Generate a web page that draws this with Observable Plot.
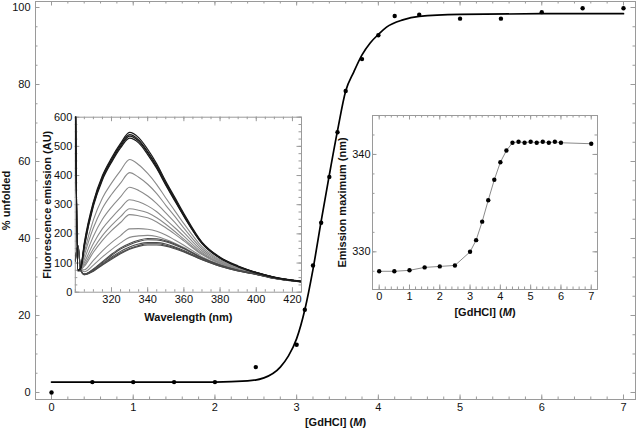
<!DOCTYPE html>
<html><head><meta charset="utf-8">
<script src="https://cdn.jsdelivr.net/npm/d3@7"></script>
<script src="https://cdn.jsdelivr.net/npm/@observablehq/plot@0.6"></script>
<style>
body{margin:0;background:#fff;}
#wrap{position:relative;width:640px;height:428px;overflow:hidden;}
#wrap svg{position:absolute;}
g[aria-label="x-axis label"] text, g[aria-label="y-axis label"] text{font-weight:bold;}
</style></head><body><div id="wrap"></div>
<script>
// ---- main chart: % unfolded vs [GdHCl]
const denat = [0, 0.5, 1, 1.5, 2, 2.5, 3, 3.1, 3.2, 3.3, 3.4, 3.5, 3.6, 3.8, 4, 4.2, 4.5, 5, 5.5, 6, 6.5, 7];
const pctUnfolded = [0, 2.7, 2.7, 2.7, 2.7, 6.6, 12.4, 21.5, 33, 44.1, 56, 67.6, 78.3, 86.6, 92.8, 97.8, 98.1, 97.1, 97.1, 98.8, 99.8, 99.8];
const fitX = [0, 2.0, 2.4, 2.6, 2.8, 2.9, 3.0, 3.1, 3.2, 3.3, 3.4, 3.5, 3.6, 3.7, 3.8, 3.9, 4.0, 4.1, 4.3, 4.5, 5.0, 6.0, 7.0];
const fitY = [2.7, 2.7, 3.0, 3.8, 6.6, 9.5, 14, 21.5, 32, 44.5, 56.5, 68, 78.3, 83.3, 87.7, 90.8, 93.0, 94.9, 96.8, 97.7, 98.2, 98.4, 98.4];
const mainXTicks = [0, 1, 2, 3, 4, 5, 6, 7];
const mainYTicks = [0, 20, 40, 60, 80, 100];

// ---- inset 1: emission spectra
const wavelengths = [300, 301.5, 303, 305, 310, 315, 320, 325, 330, 335, 340, 345, 350, 355, 360, 370, 380, 390, 400, 410, 425];
const nat1 = [700, 75, 85, 170, 310, 400, 460, 510, 548, 530, 490, 440, 380, 325, 270, 172, 120, 90, 68, 52, 38];
const nat2 = [700, 75, 85, 165, 305, 395, 455, 505, 540, 522, 482, 433, 375, 320, 265, 170, 118, 88, 67, 51, 37];
const nat3 = [700, 75, 82, 160, 300, 390, 450, 500, 535, 518, 478, 428, 370, 316, 262, 168, 117, 88, 67, 51, 37];
const nat4 = [700, 75, 80, 155, 295, 385, 445, 495, 528, 512, 472, 424, 367, 313, 260, 167, 116, 87, 66, 51, 36];
const mid1 = [700, 72, 80, 137, 248, 323, 374, 417, 455, 437, 407, 369, 323, 279, 235, 156, 111, 85, 66, 50, 37];
const mid2 = [700, 72, 80, 126, 221, 288, 335, 374, 410, 394, 370, 338, 298, 260, 220, 149, 108, 83, 65, 50, 37];
const mid3 = [700, 72, 79, 113, 192, 250, 292, 327, 360, 349, 330, 304, 272, 239, 205, 142, 105, 81, 65, 50, 37];
const mid4 = [700, 72, 78, 102, 167, 218, 255, 288, 317, 310, 296, 276, 249, 221, 192, 136, 102, 80, 64, 49, 36];
const mid5 = [700, 72, 77, 94, 149, 194, 229, 259, 286, 281, 272, 255, 233, 208, 182, 132, 100, 79, 64, 49, 36];
const mid6 = [700, 72, 77, 89, 137, 178, 211, 239, 266, 262, 255, 241, 221, 199, 176, 129, 98, 78, 63, 49, 36];
const mid7 = [700, 72, 76, 77, 109, 142, 170, 194, 217, 218, 216, 209, 196, 179, 161, 122, 95, 76, 63, 48, 36];
const mid8 = [700, 72, 76, 70, 93, 121, 146, 169, 188, 193, 195, 191, 181, 168, 153, 118, 93, 75, 62, 48, 36];
const unf1 = [110, 160, 75, 62, 80, 105, 130, 152, 167, 178, 184, 183, 176, 165, 151, 118, 93, 75, 62, 48, 36];
const unf2 = [110, 160, 75, 62, 78, 102, 126, 148, 163, 174, 180, 179, 173, 162, 149, 117, 92, 75, 62, 48, 36];
const unf3 = [110, 160, 75, 62, 75, 98, 120, 140, 155, 165, 170, 170, 165, 155, 143, 114, 91, 74, 62, 48, 36];
const unf4 = [108, 158, 74, 60, 73, 95, 116, 135, 150, 160, 166, 166, 161, 152, 140, 112, 89, 73, 61, 47, 35];
const unf5 = [105, 155, 74, 60, 72, 93, 113, 132, 147, 157, 162, 162, 158, 149, 138, 111, 89, 73, 61, 47, 35];
const specXTicks = [320, 340, 360, 380, 400, 420];
const specYTicks = [0, 100, 200, 300, 400, 500, 600];

// ---- inset 2: emission maximum
const emConc = [0, 0.5, 1, 1.5, 2, 2.5, 3, 3.2, 3.4, 3.6, 3.8, 4, 4.2, 4.4, 4.6, 4.8, 5, 5.2, 5.4, 5.6, 5.8, 6, 7];
const emMax = [328.0, 328.0, 328.1, 328.4, 328.5, 328.6, 330.0, 331.2, 333.1, 335.3, 337.4, 339.2, 340.4, 341.2, 341.3, 341.2, 341.3, 341.2, 341.3, 341.2, 341.3, 341.2, 341.1];
const emXTicks = [0, 1, 2, 3, 4, 5, 6, 7];
const emYTicks = [330, 340];

const FONT = "'Liberation Sans', Arial, Helvetica, sans-serif";
const FRAME = "#9a9a9a";

function frameTicks(iw, ih, xMinor, yMinor, xMajor, yMajor) {
  const m = [];
  for (const [arr, len] of [[xMinor, 2.5], [xMajor, 4.5]]) {
    m.push(Plot.tickX(arr, {x: d => d, insetTop: ih - len, stroke: FRAME}));
    m.push(Plot.tickX(arr, {x: d => d, insetBottom: ih - len, stroke: FRAME}));
  }
  for (const [arr, len] of [[yMinor, 2.5], [yMajor, 4.5]]) {
    m.push(Plot.tickY(arr, {y: d => d, insetRight: iw - len, stroke: FRAME}));
    m.push(Plot.tickY(arr, {y: d => d, insetLeft: iw - len, stroke: FRAME}));
  }
  return m;
}

const wrap = document.getElementById("wrap");

// main
{
  const W = 640, H = 428, ml = 35, mr = 5, mt = 1, mb = 29;
  const pts = denat.map((x, i) => ({x, y: pctUnfolded[i]}));
  const fit = fitX.map((x, i) => ({x, y: fitY[i]}));
  const p = Plot.plot({
    width: W, height: H, marginLeft: ml, marginRight: mr, marginTop: mt, marginBottom: mb,
    style: {fontFamily: FONT, fontSize: "11px", color: "#111", background: "white"},
    x: {domain: [-0.196, 7.147]},
    y: {domain: [-1.82, 101.56]},
    marks: [
      ...frameTicks(W - ml - mr, H - mt - mb, d3.range(0, 7.01, 0.2), d3.range(0, 101, 5), mainXTicks, mainYTicks),
      Plot.frame({stroke: FRAME}),
      Plot.axisX({ticks: mainXTicks, tickSize: 0, tickPadding: 4, label: "[GdHCl] (M)", labelArrow: "none", labelAnchor: "center", labelOffset: 26}),
      Plot.axisY({ticks: mainYTicks, tickSize: 0, tickPadding: 5, label: "% unfolded", labelArrow: "none", labelAnchor: "center", labelOffset: 33}),
      Plot.line(fit, {x: "x", y: "y", curve: "monotone-x", stroke: "#000", strokeWidth: 1.7}),
      Plot.dot(pts, {x: "x", y: "y", r: 2.2, fill: "#000"})
    ]
  });
  p.style.left = "0px"; p.style.top = "0px";
  wrap.appendChild(p);
}

// inset 1
{
  const W = 270, H = 222, ml = 34.8, mr = 9, mt = 11.7, mb = 35.3;
  const groups = [
    ["mid", [mid1, mid2, mid3, mid4, mid5, mid6, mid7, mid8]],
    ["unf", [unf1, unf2, unf3, unf4, unf5]],
    ["nat", [nat1, nat2, nat3, nat4]]
  ];
  const rows = {};
  for (const [g, list] of groups) {
    rows[g] = [];
    list.forEach((arr, k) => arr.forEach((v, i) => rows[g].push({id: g + k, w: wavelengths[i], v})));
  }
  const p = Plot.plot({
    width: W, height: H, marginLeft: ml, marginRight: mr, marginTop: mt, marginBottom: mb,
    style: {fontFamily: FONT, fontSize: "11px", color: "#111", background: "transparent"},
    x: {domain: [300, 425]},
    y: {domain: [0, 600]},
    marks: [
      ...frameTicks(W - ml - mr, H - mt - mb, d3.range(300, 426, 5), d3.range(0, 601, 25), specXTicks, specYTicks),
      Plot.frame({stroke: FRAME}),
      Plot.axisX({ticks: specXTicks, tickSize: 0, tickPadding: 3, label: "Wavelength (nm)", labelArrow: "none", labelAnchor: "center", labelOffset: 29}),
      Plot.axisY({ticks: specYTicks, tickSize: 0, tickPadding: 3, label: "Fluorescence emission (AU)", labelArrow: "none", labelAnchor: "center", labelOffset: 32}),
      Plot.line(rows.mid, {x: "w", y: "v", z: "id", curve: "monotone-x", stroke: "#8a8a8a", strokeWidth: 1.1, clip: true}),
      Plot.line(rows.unf, {x: "w", y: "v", z: "id", curve: "monotone-x", stroke: "#4a4a4a", strokeWidth: 1.1, clip: true}),
      Plot.line(rows.nat, {x: "w", y: "v", z: "id", curve: "monotone-x", stroke: "#1a1a1a", strokeWidth: 1.2, clip: true})
    ]
  });
  p.style.left = "40px"; p.style.top = "105px";
  wrap.appendChild(p);
}

// inset 2
{
  const W = 275, H = 215, ml = 42, mr = 8, mt = 10, mb = 31;
  const pts = emConc.map((x, i) => ({x, y: emMax[i]}));
  const p = Plot.plot({
    width: W, height: H, marginLeft: ml, marginRight: mr, marginTop: mt, marginBottom: mb,
    style: {fontFamily: FONT, fontSize: "11px", color: "#111", background: "transparent"},
    x: {domain: [-0.221, 7.207]},
    y: {domain: [326.13, 344.0]},
    marks: [
      ...frameTicks(W - ml - mr, H - mt - mb, d3.range(0, 7.01, 0.2), d3.range(328, 344, 2), emXTicks, emYTicks),
      Plot.frame({stroke: FRAME}),
      Plot.axisX({ticks: emXTicks, tickSize: 0, tickPadding: 3, label: "[GdHCl] (M)", labelArrow: "none", labelAnchor: "center", labelOffset: 26}),
      Plot.axisY({ticks: emYTicks, tickSize: 0, tickPadding: 2, label: "Emission maximum (nm)", labelArrow: "none", labelAnchor: "center", labelOffset: 34}),
      Plot.line(pts, {x: "x", y: "y", stroke: "#8a8a8a", strokeWidth: 1}),
      Plot.dot(pts, {x: "x", y: "y", r: 2.2, fill: "#000"})
    ]
  });
  p.style.left = "330px"; p.style.top = "105px";
  wrap.appendChild(p);
}

// italic M in concentration labels
for (const t of wrap.querySelectorAll("text")) {
  if (t.textContent.trim() === "[GdHCl] (M)") {
    t.textContent = "[GdHCl] (";
    const ts = document.createElementNS("http://www.w3.org/2000/svg", "tspan");
    ts.setAttribute("font-style", "italic");
    ts.textContent = "M";
    t.appendChild(ts);
    t.appendChild(document.createTextNode(")"));
  }
}
</script></body></html>
